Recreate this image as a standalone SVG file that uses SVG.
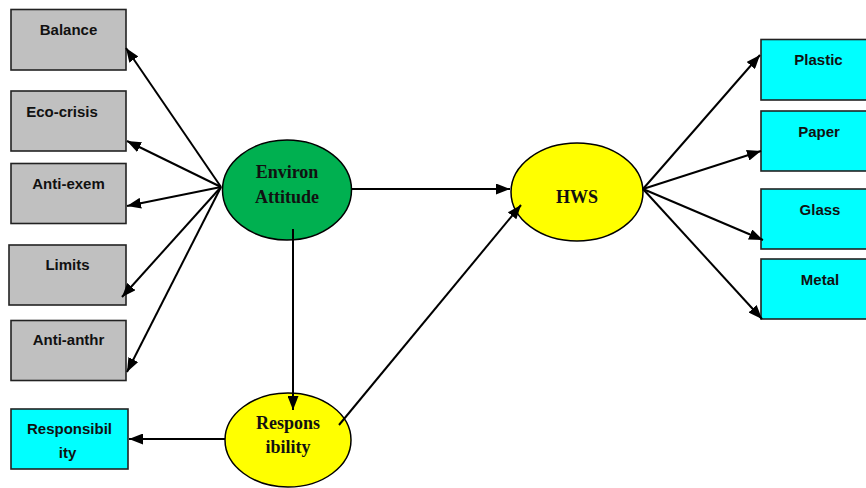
<svg xmlns="http://www.w3.org/2000/svg" width="866" height="488" viewBox="0 0 866 488">
<style>
.box{stroke:#222;stroke-width:1.6}
.gray{fill:#C0C0C0}
.cyan{fill:#00FFFF}
.ell{stroke:#000;stroke-width:1.5}
.lbl{font-family:"Liberation Sans",Arial,sans-serif;font-weight:bold;font-size:15px;fill:#111;text-anchor:middle}
.slbl{font-family:"Liberation Serif","Times New Roman",serif;font-weight:bold;font-size:18px;fill:#111;text-anchor:middle}
.con{stroke:#000;stroke-width:2;fill:none;marker-end:url(#arr)}
</style>
<defs>
<marker id="arr" viewBox="0 0 14 11" refX="14" refY="5.5" markerWidth="14" markerHeight="11" markerUnits="userSpaceOnUse" orient="auto">
<path d="M0,0 L14,5.5 L0,11 z" fill="#000"/>
</marker>
</defs>
<rect width="866" height="488" fill="#fff"/>
<g id="balance"><rect class="box gray" x="11" y="9.5" width="115" height="60.5"/><text class="lbl" x="68.5" y="35">Balance</text></g>
<g id="eco-crisis"><rect class="box gray" x="11" y="91" width="115" height="60"/><text class="lbl" x="62" y="117">Eco-crisis</text></g>
<g id="anti-exem"><rect class="box gray" x="11" y="163.5" width="115" height="60"/><text class="lbl" x="68.5" y="189">Anti-exem</text></g>
<g id="limits"><rect class="box gray" x="9" y="245" width="117" height="60"/><text class="lbl" x="67.5" y="270">Limits</text></g>
<g id="anti-anthr"><rect class="box gray" x="11" y="320.5" width="115" height="60"/><text class="lbl" x="68.5" y="345">Anti-anthr</text></g>
<g id="responsibility-box"><rect class="box cyan" x="11" y="409" width="117" height="60"/><text class="lbl" x="69.5" y="434">Responsibil</text><text class="lbl" x="67.5" y="458">ity</text></g>
<g id="plastic"><rect class="box cyan" x="761" y="39.5" width="115" height="60.5"/><text class="lbl" x="818.5" y="65">Plastic</text></g>
<g id="paper"><rect class="box cyan" x="761" y="111" width="115" height="60"/><text class="lbl" x="819" y="137">Paper</text></g>
<g id="glass"><rect class="box cyan" x="761" y="189" width="115" height="60"/><text class="lbl" x="820" y="215">Glass</text></g>
<g id="metal"><rect class="box cyan" x="761" y="259" width="115" height="60"/><text class="lbl" x="820" y="285">Metal</text></g>
<g id="environ-attitude"><ellipse class="ell" cx="287" cy="190" rx="64.5" ry="50" fill="#00B050"/><text class="slbl" x="287" y="178">Environ</text><text class="slbl" x="287" y="203">Attitude</text></g>
<g id="hws"><ellipse class="ell" cx="577" cy="192" rx="66" ry="49" fill="#FFFF00"/><text class="slbl" x="577" y="203">HWS</text></g>
<g id="responsibility"><ellipse class="ell" cx="288" cy="440" rx="63" ry="47" fill="#FFFF00"/><text class="slbl" x="288" y="429">Respons</text><text class="slbl" x="288" y="453">ibility</text></g>
<g id="connectors">
<line class="con" x1="221" y1="187" x2="126" y2="48"/>
<line class="con" x1="221" y1="187" x2="127" y2="141"/>
<line class="con" x1="221" y1="187" x2="127" y2="206"/>
<line class="con" x1="221" y1="187" x2="122" y2="297"/>
<line class="con" x1="221" y1="187" x2="127" y2="372"/>
<line class="con" x1="352" y1="189" x2="510" y2="189"/>
<line class="con" x1="293" y1="229" x2="293" y2="410"/>
<line class="con" x1="225" y1="439" x2="129" y2="439"/>
<line class="con" x1="339" y1="425" x2="521" y2="205"/>
<line class="con" x1="643" y1="189" x2="760" y2="55"/>
<line class="con" x1="643" y1="189" x2="761" y2="151"/>
<line class="con" x1="643" y1="189" x2="763" y2="240"/>
<line class="con" x1="643" y1="189" x2="762" y2="319"/>
</g>
</svg>
